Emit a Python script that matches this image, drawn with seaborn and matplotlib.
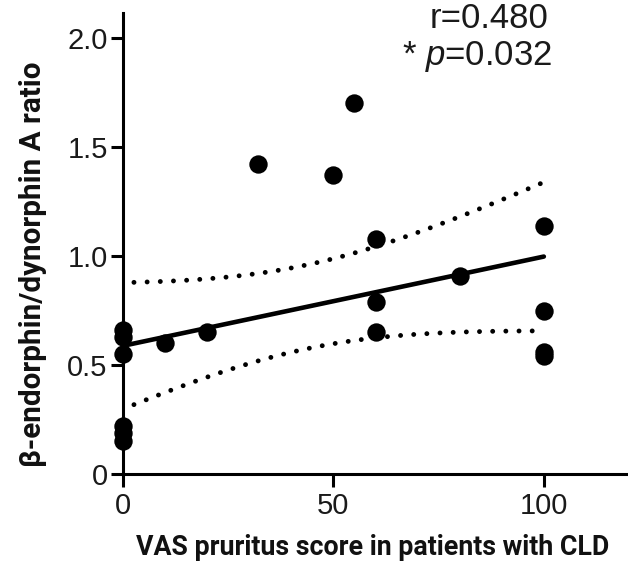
import numpy as np
import pandas as pd
import matplotlib
matplotlib.use("Agg")
import matplotlib.pyplot as plt
import seaborn as sns

# ---- data ----
vas_score = [0, 0, 0, 0, 0, 0, 10, 20, 32, 50, 55, 60, 60, 60, 80, 100, 100, 100, 100]
ratio = [0.66, 0.63, 0.55, 0.22, 0.19, 0.15, 0.60, 0.65, 1.42, 1.37, 1.70,
         1.08, 0.79, 0.65, 0.91, 1.14, 0.75, 0.56, 0.54]
x_ticks = [0, 50, 100]
x_tick_labels = ["0", "50", "100"]
y_ticks = [0, 0.5, 1.0, 1.5, 2.0]
y_tick_labels = ["0", "0.5", "1.0", "1.5", "2.0"]
r_text = "r=0.480"
p_text = "* $\\mathit{p}$=0.032"
x_label = "VAS pruritus score in patients with CLD"
y_label = "β-endorphin/dynorphin A ratio"

df = pd.DataFrame({"vas": vas_score, "ratio": ratio})

sns.set_style("ticks")
plt.rcParams["font.family"] = ["Liberation Sans", "DejaVu Sans"]
plt.rcParams["mathtext.fontset"] = "custom"
plt.rcParams["mathtext.rm"] = "Liberation Sans"
plt.rcParams["mathtext.it"] = "Liberation Sans:italic"

fig = plt.figure(figsize=(6.28, 5.66), dpi=100)
ax = fig.add_axes([123 / 628, 1 - 474 / 566, (628 - 123) / 628, (474 - 13) / 566])

# regression line + points
sns.regplot(data=df, x="vas", y="ratio", ax=ax, ci=None, truncate=True,
            scatter_kws=dict(s=175, color="black", alpha=1, linewidths=0,
                             zorder=3, clip_on=False),
            line_kws=dict(color="black", lw=3.3, zorder=2))

# 95% confidence band of the fitted line (computed from the data)
xa = np.asarray(vas_score, float)
ya = np.asarray(ratio, float)
n = len(xa)
slope, intercept = np.polyfit(xa, ya, 1)
resid = ya - (slope * xa + intercept)
s = np.sqrt(np.sum(resid ** 2) / (n - 2))
sxx = np.sum((xa - xa.mean()) ** 2)
tval = 2.11
xg = np.linspace(2.6, 100, 200)
yfit = slope * xg + intercept
se = s * np.sqrt(1 / n + (xg - xa.mean()) ** 2 / sxx)
for sign in (1, -1):
    ax.plot(xg, yfit + sign * tval * se, color="black", lw=3.5,
            linestyle=(0, (0.01, 2.7)), dash_capstyle="round", zorder=2)

ax.set_xlim(0, 120)
ax.set_ylim(0, 2.115)
ax.set_xticks(x_ticks)
ax.set_xticklabels(x_tick_labels)
ax.set_yticks(y_ticks)
ax.set_yticklabels(y_tick_labels)
ax.tick_params(axis="both", labelsize=21, length=9, width=2.2, color="black",
               labelcolor="#1a1a1a")
ax.tick_params(axis="x", pad=4)
ax.tick_params(axis="y", pad=2)
sns.despine(ax=ax)
for sp in ("left", "bottom"):
    ax.spines[sp].set_linewidth(2.2)
    ax.spines[sp].set_color("black")

ax.set_xlabel(x_label, fontsize=19.3, fontweight="bold", family="Roboto",
              color="#111111", va="center")
ax.xaxis.set_label_coords(0.495, -0.16)
ax.set_ylabel(y_label, fontsize=21.3, fontweight="bold", family="Roboto",
              color="#111111", va="center")
ax.yaxis.set_label_coords(-0.178, 0.4545)

ax.text(101.2, 2.088, r_text, ha="right", va="center", fontsize=25, color="#1a1a1a",
        clip_on=False)
ax.text(102, 1.915, p_text, ha="right", va="center", fontsize=25, color="#1a1a1a",
        clip_on=False)
fig.savefig("out.png", dpi=100)
